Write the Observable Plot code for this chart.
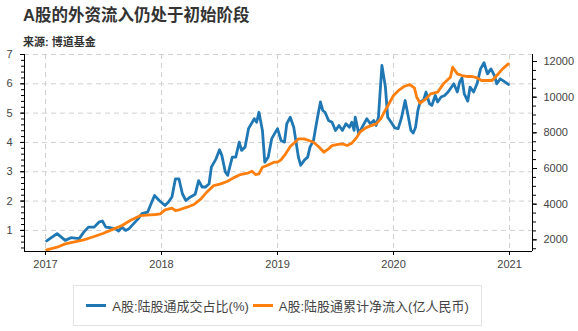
<!DOCTYPE html>
<html><head><meta charset="utf-8">
<script src="https://cdn.jsdelivr.net/npm/d3@7"></script>
<script src="https://cdn.jsdelivr.net/npm/@observablehq/plot@0.6"></script>
<style>
body{margin:0;background:#fff;font-family:"Liberation Sans",Arial,"Noto Sans CJK SC",sans-serif;}
#wrap{position:relative;width:578px;height:331px;overflow:hidden;background:#fff}
#title{position:absolute;left:23px;top:5px;line-height:20px;font-size:16.5px;font-weight:bold;color:#333;white-space:nowrap}
#sub{position:absolute;left:23px;top:35px;line-height:15px;font-size:11px;font-weight:bold;color:#333;white-space:nowrap}
#chart{position:absolute;left:0;top:48px}
#legend{position:absolute;left:73px;top:285px;width:407px;height:39px;border:1px solid #e3e3e3;display:flex;align-items:center;justify-content:center;font-size:13px;color:#444;white-space:nowrap}
.sw{display:inline-block;width:20px;height:3px;margin-right:6px;vertical-align:middle}
.item{display:flex;align-items:center;margin:0 2px}
</style></head>
<body><div id="wrap">
<div id="title"></div>
<div id="sub"></div>
<div id="chart"></div>
<div id="legend"></div>
</div>
<script>
const titleText = "A股的外资流入仍处于初始阶段";
const subtitleText = "来源: 博道基金";
const seriesNames = ["A股:陆股通成交占比(%)", "A股:陆股通累计净流入(亿人民币)"];
const seriesColors = ["#1f77b4", "#ff7f0e"];
const xTicks = [2017, 2018, 2019, 2020, 2021];
const leftTicks = [1, 2, 3, 4, 5, 6, 7];
const rightTicks = [2000, 4000, 6000, 8000, 10000, 12000];

// 陆股通成交占比 (%), left axis
const blueT = [2017.01,2017.10,2017.17,2017.22,2017.29,2017.33,2017.37,2017.42,2017.46,2017.49,2017.52,2017.56,2017.60,2017.63,2017.66,2017.69,2017.72,2017.76,2017.80,2017.83,2017.88,2017.91,2017.94,2017.98,
2018.03,2018.06,2018.09,2018.12,2018.15,2018.18,2018.21,2018.25,2018.29,2018.32,2018.35,2018.38,2018.41,2018.43,2018.47,2018.50,2018.52,2018.55,2018.57,2018.61,2018.64,2018.67,2018.69,2018.72,2018.75,2018.80,2018.82,2018.84,2018.87,2018.89,2018.92,2018.95,
2019.00,2019.03,2019.06,2019.08,2019.11,2019.14,2019.16,2019.18,2019.20,2019.23,2019.26,2019.28,2019.31,2019.34,2019.37,2019.39,2019.41,2019.44,2019.47,2019.50,2019.53,2019.56,2019.59,2019.62,2019.64,2019.66,2019.67,2019.70,2019.73,2019.77,2019.80,2019.83,2019.85,2019.87,2019.90,2019.93,2019.95,2019.98,
2020.01,2020.04,2020.07,2020.10,2020.12,2020.15,2020.17,2020.19,2020.21,2020.23,2020.26,2020.28,2020.31,2020.33,2020.36,2020.38,2020.41,2020.44,2020.47,2020.50,2020.52,2020.55,2020.57,2020.59,2020.61,2020.64,2020.66,2020.69,2020.72,2020.75,2020.78,2020.81,2020.84,2020.87,2020.89,2020.92,2020.95,2020.99];
const blueV = [0.64,0.89,0.66,0.75,0.72,0.94,1.11,1.11,1.28,1.32,1.11,1.09,1.06,0.98,1.11,1.00,1.06,1.23,1.40,1.57,1.62,1.91,2.19,2.02,
1.85,1.97,2.14,2.76,2.76,2.25,2.02,2.14,2.23,2.70,2.48,2.48,2.59,3.16,3.44,3.75,3.56,2.99,2.88,3.50,3.50,4.01,3.73,3.84,4.47,4.81,4.69,5.03,4.41,3.33,3.50,4.13,
4.47,4.07,4.01,4.64,4.86,4.52,4.01,3.50,3.22,3.39,3.50,3.84,4.07,4.75,5.38,5.09,5.03,4.75,4.69,4.41,4.58,4.41,4.64,4.52,4.69,4.41,4.86,4.30,4.52,4.81,4.64,4.75,4.58,4.86,6.63,5.89,4.86,4.69,
4.50,4.47,4.86,5.43,5.03,4.41,4.32,4.52,5.09,5.38,5.45,5.72,5.32,5.26,5.60,5.38,5.55,5.60,5.72,5.89,6.00,5.72,6.06,6.20,5.66,5.41,5.89,5.72,6.00,6.51,6.72,6.34,6.51,6.28,6.00,6.17,6.09,5.98];

// 陆股通累计净流入 (亿人民币), right axis
const orangeT = [2017.01,2017.10,2017.17,2017.24,2017.33,2017.42,2017.50,2017.59,2017.66,2017.73,2017.82,2017.90,2017.95,2017.99,
2018.03,2018.09,2018.12,2018.16,2018.22,2018.28,2018.34,2018.39,2018.45,2018.51,2018.57,2018.62,2018.68,2018.74,2018.78,2018.81,2018.84,2018.87,2018.91,2018.97,
2019.00,2019.03,2019.07,2019.11,2019.16,2019.18,2019.23,2019.27,2019.31,2019.36,2019.40,2019.44,2019.47,2019.51,2019.56,2019.60,2019.64,2019.68,2019.71,2019.76,2019.80,2019.85,2019.89,2019.92,2019.96,
2020.00,2020.05,2020.09,2020.14,2020.18,2020.20,2020.23,2020.28,2020.32,2020.38,2020.43,2020.49,2020.51,2020.55,2020.59,2020.64,2020.68,2020.72,2020.76,2020.81,2020.85,2020.89,2020.94,2020.99];
const orangeV = [1437,1587,1774,1867,2000,2185,2372,2615,2802,3082,3363,3400,3420,3456,
3681,3774,3643,3700,3830,3980,4298,4671,5045,5139,5288,5475,5662,5737,5849,5662,5700,6073,6167,6354,
6354,6485,6821,7232,7531,7662,7662,7569,7475,7195,6914,7101,7288,7344,7382,7288,7419,7718,8036,8279,8391,8504,8784,9158,9625,
10092,10410,10597,10709,10522,9999,9662,9906,10186,10279,10747,11120,11681,11308,11214,11158,11158,11083,10934,10934,10934,11214,11588,11868];

document.getElementById("title").textContent = titleText;
document.getElementById("sub").textContent = subtitleText;
const leg = document.getElementById("legend");
seriesNames.forEach((n, i) => {
  const it = document.createElement("div"); it.className = "item";
  const sw = document.createElement("span"); sw.className = "sw"; sw.style.background = seriesColors[i];
  const tx = document.createElement("span"); tx.textContent = n;
  it.appendChild(sw); it.appendChild(tx); leg.appendChild(it);
});

const xDomain = [2016.819, 2021.198];
const yDomain = [0.28, 7.0];
// right axis value -> left axis units
const toLeft = r => 0.678 + (r - 2000) * 0.0006083;
const blue = blueT.map((t, i) => ({t, v: blueV[i]}));
const orange = orangeT.map((t, i) => ({t, v: orangeV[i]}));
const leftMinor = d3.range(0.4, 7.01, 0.2).map(v => +v.toFixed(1));
const rightMinor = d3.range(1500, 12001, 500);

const chart = Plot.plot({
  width: 578, height: 230,
  marginLeft: 24, marginRight: 46, marginTop: 6, marginBottom: 27,
  x: {type: "linear", domain: xDomain},
  y: {domain: yDomain},
  style: {fontSize: "11px", fontFamily: "Liberation Sans, Arial, sans-serif", background: "transparent", overflow: "visible"},
  marks: [
    Plot.gridX(xTicks, {stroke: "#d0d0d0", strokeOpacity: 1, strokeDasharray: "5,4"}),
    Plot.gridY(leftTicks, {stroke: "#d0d0d0", strokeOpacity: 1, strokeDasharray: "5,4"}),
    Plot.line(blue, {x: "t", y: "v", stroke: seriesColors[0], strokeWidth: 2.8}),
    Plot.line(orange, {x: "t", y: d => toLeft(d.v), stroke: seriesColors[1], strokeWidth: 2.8}),
    Plot.ruleX([xDomain[0], xDomain[1]], {stroke: "black", strokeWidth: 1}),
    Plot.ruleY([yDomain[0]], {stroke: "black", strokeWidth: 1}),
    Plot.axisX(xTicks, {tickFormat: d => String(d), tickSize: 4, tickPadding: 5, stroke: "black", fill: "#444", label: null}),
    Plot.axisY(leftTicks, {anchor: "left", tickSize: 4, tickPadding: 8, stroke: "black", fill: "#444", label: null}),
    Plot.axisY(leftMinor, {anchor: "left", tickSize: 3, tickFormat: () => "", stroke: "black", label: null}),
    Plot.axisY(rightTicks.map(toLeft), {anchor: "right", tickSize: 4, tickPadding: 7, stroke: "black", fill: "#444", label: null,
      tickFormat: v => String(Math.round((v - 0.678) / 0.0006083 + 2000))}),
    Plot.axisY(rightMinor.map(toLeft), {anchor: "right", tickSize: 3, tickFormat: () => "", stroke: "black", label: null})
  ]
});
document.getElementById("chart").appendChild(chart);
</script>
</body></html>
